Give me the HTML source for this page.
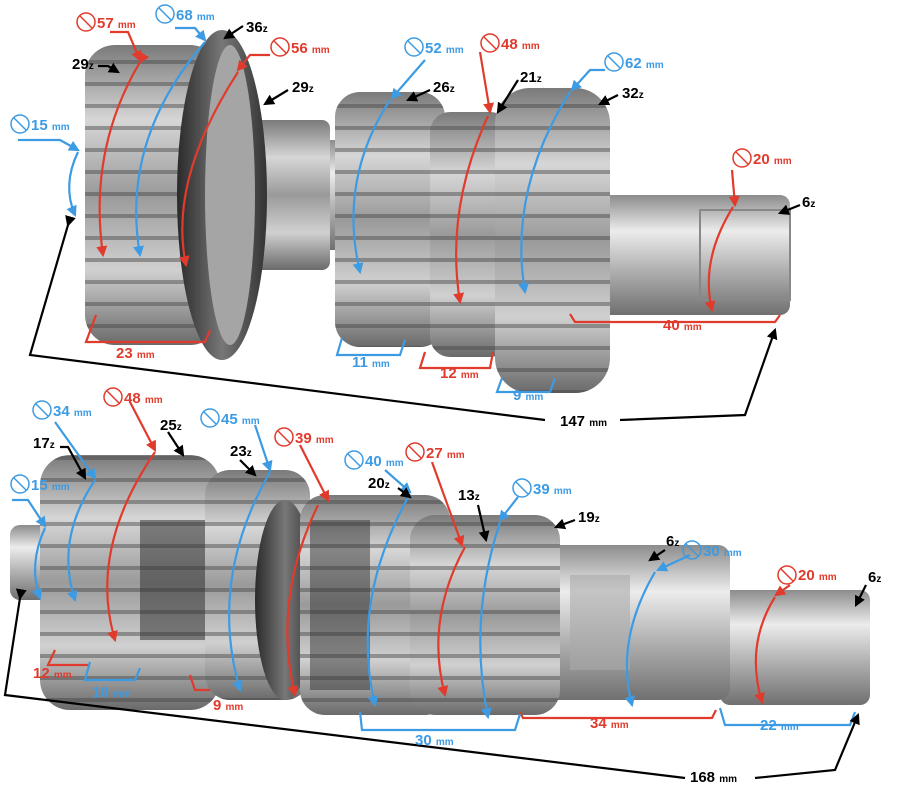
<!DOCTYPE html>
<html><head><meta charset="utf-8"><style>
html,body{margin:0;padding:0;background:#fff;}
svg{display:block;font-family:"Liberation Sans",sans-serif;font-weight:bold;}
</style></head><body>
<svg width="900" height="800" viewBox="0 0 900 800" xmlns="http://www.w3.org/2000/svg">
<defs>
<linearGradient id="g" x1="0" y1="0" x2="0" y2="1">
<stop offset="0" stop-color="#7a7a7a"/><stop offset="0.25" stop-color="#d6d6d6"/><stop offset="0.5" stop-color="#9a9a9a"/><stop offset="0.75" stop-color="#d0d0d0"/><stop offset="1" stop-color="#6a6a6a"/></linearGradient>
<linearGradient id="s" x1="0" y1="0" x2="0" y2="1">
<stop offset="0" stop-color="#8c8c8c"/><stop offset="0.3" stop-color="#ececec"/><stop offset="0.6" stop-color="#b5b5b5"/><stop offset="1" stop-color="#707070"/></linearGradient>
<linearGradient id="d" x1="0" y1="0" x2="1" y2="0">
<stop offset="0" stop-color="#2a2a2a"/><stop offset="0.5" stop-color="#777"/><stop offset="1" stop-color="#333"/></linearGradient>
<pattern id="t" width="10" height="22" patternUnits="userSpaceOnUse"><rect width="10" height="22" fill="none"/><rect y="16" width="10" height="4" fill="#444" opacity="0.45"/></pattern>
<marker id="ar" viewBox="0 0 10 10" refX="8" refY="5" markerWidth="5" markerHeight="5" orient="auto"><path d="M0,0L10,5L0,10z" fill="#e03b2c"/></marker>
<marker id="ab" viewBox="0 0 10 10" refX="8" refY="5" markerWidth="5" markerHeight="5" orient="auto"><path d="M0,0L10,5L0,10z" fill="#3d9be3"/></marker>
<marker id="ak" viewBox="0 0 10 10" refX="8" refY="5" markerWidth="5" markerHeight="5" orient="auto"><path d="M0,0L10,5L0,10z" fill="#000"/></marker>
</defs>

<!-- TOP SHAFT -->
<rect x="560" y="195" width="230" height="120" rx="10" fill="url(#s)"/>
<rect x="700" y="210" width="90" height="90" fill="none" stroke="#888" stroke-width="2"/>
<rect x="320" y="140" width="30" height="110" fill="url(#s)"/>
<rect x="250" y="120" width="80" height="150" rx="8" fill="url(#g)"/>
<rect x="85" y="45" width="135" height="300" rx="30" fill="url(#g)"/><rect x="85" y="45" width="135" height="300" rx="30" fill="url(#t)"/>
<ellipse cx="222" cy="195" rx="45" ry="165" fill="url(#d)"/>
<ellipse cx="230" cy="195" rx="25" ry="150" fill="#a5a5a5"/>
<rect x="335" y="92" width="110" height="255" rx="25" fill="url(#g)"/><rect x="335" y="92" width="110" height="255" rx="25" fill="url(#t)"/>
<rect x="430" y="112" width="80" height="245" rx="20" fill="url(#g)"/><rect x="430" y="112" width="80" height="245" rx="20" fill="url(#t)"/>
<rect x="495" y="88" width="115" height="305" rx="35" fill="url(#g)"/><rect x="495" y="88" width="115" height="305" rx="35" fill="url(#t)"/>

<!-- BOTTOM SHAFT -->
<rect x="720" y="590" width="150" height="115" rx="10" fill="url(#s)"/>
<rect x="520" y="545" width="210" height="155" rx="12" fill="url(#s)"/>
<rect x="570" y="575" width="60" height="95" fill="#aaa" opacity="0.6"/>
<rect x="10" y="525" width="45" height="75" rx="10" fill="url(#s)"/>
<rect x="40" y="455" width="180" height="255" rx="30" fill="url(#g)"/><rect x="40" y="455" width="180" height="255" rx="30" fill="url(#t)"/>
<rect x="140" y="520" width="70" height="120" fill="#333" opacity="0.55"/>
<rect x="205" y="470" width="105" height="230" rx="25" fill="url(#g)"/><rect x="205" y="470" width="105" height="230" rx="25" fill="url(#t)"/>
<ellipse cx="285" cy="600" rx="30" ry="100" fill="url(#d)"/>
<rect x="300" y="495" width="150" height="220" rx="25" fill="url(#g)"/><rect x="300" y="495" width="150" height="220" rx="25" fill="url(#t)"/>
<rect x="310" y="520" width="60" height="170" fill="#333" opacity="0.5"/>
<rect x="410" y="515" width="150" height="200" rx="25" fill="url(#g)"/><rect x="410" y="515" width="150" height="200" rx="25" fill="url(#t)"/>

<!-- ANNOTATIONS -->
<g fill="none" stroke-width="2.2">
<g stroke="#e03b2c">
<path d="M110,32 H128 L140,60" marker-end="url(#ar)"/><path d="M140,62 Q88,150 103,255" marker-end="url(#ar)" marker-start="url(#ar)"/>
<path d="M270,55 H250 L238,70" marker-end="url(#ar)"/><path d="M238,72 Q168,180 186,265" marker-end="url(#ar)"/>
<path d="M480,52 L490,112" marker-end="url(#ar)"/><path d="M488,116 Q445,210 460,302" marker-end="url(#ar)"/>
<path d="M732,170 L735,205" marker-end="url(#ar)"/><path d="M733,207 Q700,260 712,310" marker-end="url(#ar)"/>
<path d="M96,315 L86,342 H205 L210,330" /><path d="M425,352 L420,368 H490 L493,352"/>
<path d="M570,314 L575,322 H775 L780,315"/>
</g>
<g stroke="#3d9be3">
<path d="M175,28 H195 L205,40" marker-end="url(#ab)"/><path d="M205,42 Q120,140 140,255" marker-end="url(#ab)"/>
<path d="M18,140 H60 L78,150" marker-end="url(#ab)"/><path d="M78,152 Q62,185 75,215" marker-end="url(#ab)"/>
<path d="M425,60 L392,98" marker-end="url(#ab)"/><path d="M390,100 Q338,180 360,272" marker-end="url(#ab)"/>
<path d="M605,70 H590 L572,90" marker-end="url(#ab)"/><path d="M570,92 Q508,190 525,292" marker-end="url(#ab)"/>
<path d="M342,338 L337,355 H400 L405,340"/><path d="M502,378 L497,392 H550 L555,378"/>
</g>
<g stroke="#000">
<path d="M243,26 L225,38" marker-end="url(#ak)"/><path d="M98,66 H108 L118,72" marker-end="url(#ak)"/>
<path d="M288,90 L265,104" marker-end="url(#ak)"/><path d="M430,90 L408,100" marker-end="url(#ak)"/>
<path d="M518,80 L498,112" marker-end="url(#ak)"/><path d="M618,95 L600,104" marker-end="url(#ak)"/>
<path d="M800,205 L780,213" marker-end="url(#ak)"/>
<path d="M68,225 L30,355 L545,420" marker-start="url(#ak)"/><path d="M620,420 L745,415 L775,330" marker-end="url(#ak)"/>
</g>
<g stroke="#e03b2c">
<path d="M130,402 L155,450" marker-end="url(#ar)"/><path d="M155,452 Q88,550 115,640" marker-end="url(#ar)"/>
<path d="M300,445 L328,500" marker-end="url(#ar)"/><path d="M318,505 Q272,600 295,695" marker-end="url(#ar)"/>
<path d="M432,462 L462,545" marker-end="url(#ar)"/><path d="M465,547 Q425,620 445,695" marker-end="url(#ar)"/>
<path d="M790,585 L776,595" marker-end="url(#ar)"/><path d="M775,597 Q745,645 762,702" marker-end="url(#ar)"/>
<path d="M55,650 L48,665 H90"/><path d="M190,675 L195,690 H210"/><path d="M520,712 L523,718 H712 L716,710"/>
</g>
<g stroke="#3d9be3">
<path d="M55,422 L95,478" marker-end="url(#ab)"/><path d="M95,480 Q55,540 75,600" marker-end="url(#ab)"/>
<path d="M12,500 H28 L45,526" marker-end="url(#ab)"/><path d="M45,528 Q28,565 40,598" marker-end="url(#ab)"/>
<path d="M255,425 L270,470" marker-end="url(#ab)"/><path d="M270,472 Q208,580 240,690" marker-end="url(#ab)"/>
<path d="M385,470 L410,492" marker-end="url(#ab)"/><path d="M410,494 Q350,600 375,705" marker-end="url(#ab)"/>
<path d="M518,497 L500,520" marker-end="url(#ab)"/><path d="M500,522 Q468,620 488,717" marker-end="url(#ab)"/>
<path d="M690,555 L658,570" marker-end="url(#ab)"/><path d="M655,572 Q615,640 632,705" marker-end="url(#ab)"/>
<path d="M90,662 L85,680 H135 L140,668"/><path d="M360,712 L362,730 H515 L520,714"/><path d="M720,708 L725,725 H850 L855,712"/>
</g>
<g stroke="#000">
<path d="M60,447 H68 L85,478" marker-end="url(#ak)"/><path d="M168,432 L183,455" marker-end="url(#ak)"/>
<path d="M240,460 L255,475" marker-end="url(#ak)"/><path d="M398,488 L410,497" marker-end="url(#ak)"/>
<path d="M478,505 L486,540" marker-end="url(#ak)"/><path d="M575,520 L556,527" marker-end="url(#ak)"/>
<path d="M665,550 L650,560" marker-end="url(#ak)"/><path d="M866,585 L856,605" marker-end="url(#ak)"/>
<path d="M20,598 L5,695 L685,778" marker-start="url(#ak)"/><path d="M755,778 L835,770 L858,715" marker-end="url(#ak)"/>
</g>
<g stroke="#e03b2c" stroke-width="1.5"><circle cx="86" cy="22" r="9"/><path d="M80,16 L92,28"/>
<circle cx="280" cy="47" r="9"/><path d="M274,41 L286,53"/><circle cx="490" cy="43" r="9"/><path d="M484,37 L496,49"/>
<circle cx="742" cy="158" r="9"/><path d="M736,152 L748,164"/><circle cx="113" cy="397" r="9"/><path d="M107,391 L119,403"/>
<circle cx="284" cy="437" r="9"/><path d="M278,431 L290,443"/><circle cx="415" cy="452" r="9"/><path d="M409,446 L421,458"/>
<circle cx="787" cy="575" r="9"/><path d="M781,569 L793,581"/></g>
<g stroke="#3d9be3" stroke-width="1.5"><circle cx="165" cy="14" r="9"/><path d="M159,8 L171,20"/>
<circle cx="20" cy="124" r="9"/><path d="M14,118 L26,130"/><circle cx="414" cy="47" r="9"/><path d="M408,41 L420,53"/>
<circle cx="614" cy="62" r="9"/><path d="M608,56 L620,68"/><circle cx="42" cy="410" r="9"/><path d="M36,404 L48,416"/>
<circle cx="20" cy="484" r="9"/><path d="M14,478 L26,490"/><circle cx="210" cy="418" r="9"/><path d="M204,412 L216,424"/>
<circle cx="354" cy="460" r="9"/><path d="M348,454 L360,466"/><circle cx="522" cy="488" r="9"/><path d="M516,482 L528,494"/>
<circle cx="692" cy="550" r="9"/><path d="M686,544 L698,556"/></g>
</g>

<g font-size="15">
<g fill="#e03b2c">
<text x="97" y="28">57 <tspan font-size="10">mm</tspan></text>
<text x="291" y="53">56 <tspan font-size="10">mm</tspan></text>
<text x="501" y="49">48 <tspan font-size="10">mm</tspan></text>
<text x="753" y="164">20 <tspan font-size="10">mm</tspan></text>
<text x="116" y="358">23 <tspan font-size="10">mm</tspan></text>
<text x="440" y="378">12 <tspan font-size="10">mm</tspan></text>
<text x="663" y="330">40 <tspan font-size="10">mm</tspan></text>
<text x="124" y="403">48 <tspan font-size="10">mm</tspan></text>
<text x="295" y="443">39 <tspan font-size="10">mm</tspan></text>
<text x="426" y="458">27 <tspan font-size="10">mm</tspan></text>
<text x="798" y="580">20 <tspan font-size="10">mm</tspan></text>
<text x="33" y="678">12 <tspan font-size="10">mm</tspan></text>
<text x="213" y="710">9 <tspan font-size="10">mm</tspan></text>
<text x="590" y="728">34 <tspan font-size="10">mm</tspan></text>
</g>
<g fill="#3d9be3">
<text x="176" y="20">68 <tspan font-size="10">mm</tspan></text>
<text x="31" y="130">15 <tspan font-size="10">mm</tspan></text>
<text x="425" y="53">52 <tspan font-size="10">mm</tspan></text>
<text x="625" y="68">62 <tspan font-size="10">mm</tspan></text>
<text x="352" y="367">11 <tspan font-size="10">mm</tspan></text>
<text x="513" y="400">9 <tspan font-size="10">mm</tspan></text>
<text x="53" y="416">34 <tspan font-size="10">mm</tspan></text>
<text x="31" y="490">15 <tspan font-size="10">mm</tspan></text>
<text x="221" y="424">45 <tspan font-size="10">mm</tspan></text>
<text x="365" y="466">40 <tspan font-size="10">mm</tspan></text>
<text x="533" y="494">39 <tspan font-size="10">mm</tspan></text>
<text x="703" y="556">30 <tspan font-size="10">mm</tspan></text>
<text x="92" y="697">10 <tspan font-size="10">mm</tspan></text>
<text x="415" y="745">30 <tspan font-size="10">mm</tspan></text>
<text x="760" y="730">22 <tspan font-size="10">mm</tspan></text>
</g>
<g fill="#000">
<text x="246" y="32">36<tspan font-size="10">z</tspan></text>
<text x="72" y="69">29<tspan font-size="10">z</tspan></text>
<text x="292" y="92">29<tspan font-size="10">z</tspan></text>
<text x="433" y="92">26<tspan font-size="10">z</tspan></text>
<text x="520" y="82">21<tspan font-size="10">z</tspan></text>
<text x="622" y="98">32<tspan font-size="10">z</tspan></text>
<text x="802" y="207">6<tspan font-size="10">z</tspan></text>
<text x="560" y="426">147 <tspan font-size="10">mm</tspan></text>
<text x="160" y="430">25<tspan font-size="10">z</tspan></text>
<text x="33" y="448">17<tspan font-size="10">z</tspan></text>
<text x="230" y="456">23<tspan font-size="10">z</tspan></text>
<text x="368" y="488">20<tspan font-size="10">z</tspan></text>
<text x="458" y="500">13<tspan font-size="10">z</tspan></text>
<text x="578" y="522">19<tspan font-size="10">z</tspan></text>
<text x="666" y="546">6<tspan font-size="10">z</tspan></text>
<text x="868" y="582">6<tspan font-size="10">z</tspan></text>
<text x="690" y="782">168 <tspan font-size="10">mm</tspan></text>
</g>
</g>
</svg>
</body></html>
